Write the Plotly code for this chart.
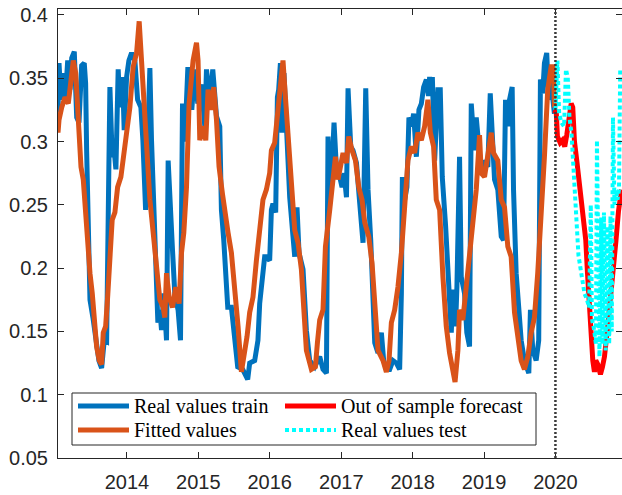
import plotly.graph_objects as go
from datetime import datetime

# ---------------- data (time in decimal years, values) ----------------
train_t = [2013.035, 2013.049, 2013.077, 2013.105, 2013.133, 2013.171, 2013.203, 2013.227, 2013.263, 2013.297,
           2013.329, 2013.366, 2013.403, 2013.422, 2013.436, 2013.459, 2013.483, 2013.524, 2013.576, 2013.608,
           2013.646, 2013.683, 2013.716, 2013.730, 2013.762, 2013.794, 2013.822, 2013.846, 2013.878, 2013.902,
           2013.940, 2013.962, 2013.996, 2014.028, 2014.066, 2014.112, 2014.150, 2014.196, 2014.224, 2014.262,
           2014.298, 2014.322, 2014.345, 2014.392, 2014.434, 2014.462, 2014.485, 2014.517, 2014.555, 2014.578,
           2014.611, 2014.639, 2014.671, 2014.717, 2014.751, 2014.779, 2014.811, 2014.853, 2014.881, 2014.909,
           2014.951, 2014.993, 2015.045, 2015.091, 2015.115, 2015.161, 2015.203, 2015.255, 2015.301, 2015.324,
           2015.357, 2015.413, 2015.464, 2015.510, 2015.552, 2015.622, 2015.692, 2015.720, 2015.790, 2015.836,
           2015.860, 2015.930, 2015.954, 2016.000, 2016.024, 2016.046, 2016.084, 2016.108, 2016.126, 2016.150,
           2016.172, 2016.200, 2016.234, 2016.280, 2016.326, 2016.350, 2016.382, 2016.410, 2016.466, 2016.513,
           2016.559, 2016.629, 2016.699, 2016.745, 2016.793, 2016.807, 2016.815, 2016.839, 2016.863, 2016.899,
           2016.933, 2016.979, 2017.011, 2017.039, 2017.073, 2017.095, 2017.133, 2017.165, 2017.213, 2017.259,
           2017.305, 2017.343, 2017.375, 2017.413, 2017.445, 2017.469, 2017.515, 2017.562, 2017.594, 2017.632,
           2017.678, 2017.724, 2017.772, 2017.818, 2017.842, 2017.856, 2017.888, 2017.920, 2017.948, 2017.982,
           2018.014, 2018.052, 2018.088, 2018.122, 2018.154, 2018.192, 2018.222, 2018.238, 2018.258, 2018.276,
           2018.308, 2018.354, 2018.387, 2018.415, 2018.462, 2018.508, 2018.541, 2018.564, 2018.601, 2018.620,
           2018.657, 2018.681, 2018.727, 2018.759, 2018.797, 2018.821, 2018.867, 2018.891, 2018.927, 2018.961,
           2019.007, 2019.053, 2019.087, 2019.115, 2019.147, 2019.193, 2019.241, 2019.273, 2019.301, 2019.333,
           2019.357, 2019.394, 2019.413, 2019.450, 2019.487, 2019.520, 2019.566, 2019.627, 2019.650, 2019.683,
           2019.730, 2019.766, 2019.790, 2019.822, 2019.846, 2019.878, 2019.906, 2019.940, 2019.986]
train_v = [0.323, 0.362, 0.333, 0.354, 0.330, 0.364, 0.341, 0.366, 0.371, 0.319,
           0.315, 0.360, 0.362, 0.346, 0.293, 0.201, 0.175, 0.161, 0.143, 0.127,
           0.121, 0.143, 0.142, 0.214, 0.343, 0.288, 0.293, 0.278, 0.357, 0.327,
           0.351, 0.309, 0.351, 0.364, 0.370, 0.364, 0.333, 0.327, 0.301, 0.246,
           0.338, 0.358, 0.301, 0.217, 0.157, 0.167, 0.151, 0.180, 0.143, 0.285,
           0.238, 0.214, 0.180, 0.167, 0.143, 0.330, 0.300, 0.357, 0.357, 0.325,
           0.357, 0.330, 0.345, 0.312, 0.357, 0.330, 0.357, 0.320, 0.312, 0.246,
           0.222, 0.169, 0.169, 0.146, 0.122, 0.120, 0.112, 0.125, 0.127, 0.143,
           0.172, 0.209, 0.209, 0.206, 0.246, 0.251, 0.244, 0.335, 0.341, 0.362,
           0.307, 0.354, 0.301, 0.256, 0.225, 0.209, 0.248, 0.212, 0.199, 0.151,
           0.127, 0.122, 0.130, 0.120, 0.117, 0.246, 0.304, 0.251, 0.270, 0.315,
           0.278, 0.272, 0.264, 0.275, 0.256, 0.342, 0.296, 0.293, 0.283, 0.251,
           0.220, 0.342, 0.262, 0.222, 0.165, 0.141, 0.133, 0.149, 0.127, 0.120,
           0.120, 0.127, 0.125, 0.120, 0.180, 0.272, 0.254, 0.264, 0.319, 0.312,
           0.322, 0.288, 0.325, 0.330, 0.343, 0.349, 0.336, 0.351, 0.338, 0.351,
           0.285, 0.341, 0.341, 0.272, 0.233, 0.180, 0.149, 0.183, 0.154, 0.185,
           0.288, 0.193, 0.180, 0.149, 0.138, 0.330, 0.293, 0.319, 0.296, 0.275,
           0.285, 0.280, 0.338, 0.301, 0.270, 0.262, 0.225, 0.222, 0.333, 0.312,
           0.333, 0.343, 0.262, 0.196, 0.165, 0.143, 0.127, 0.117, 0.167, 0.135,
           0.127, 0.143, 0.349, 0.338, 0.362, 0.370, 0.333, 0.346, 0.322]

fit_t = [2013.035, 2013.049, 2013.087, 2013.133, 2013.179, 2013.217, 2013.249, 2013.283, 2013.319, 2013.357,
         2013.389, 2013.422, 2013.450, 2013.483, 2013.515, 2013.543, 2013.576, 2013.613, 2013.646, 2013.669,
         2013.702, 2013.730, 2013.762, 2013.794, 2013.832, 2013.870, 2013.916, 2013.962, 2013.996, 2014.042,
         2014.088, 2014.136, 2014.172, 2014.206, 2014.228, 2014.252, 2014.298, 2014.322, 2014.354, 2014.392,
         2014.438, 2014.462, 2014.508, 2014.531, 2014.555, 2014.592, 2014.639, 2014.685, 2014.731, 2014.765,
         2014.797, 2014.835, 2014.871, 2014.905, 2014.927, 2014.975, 2014.997, 2015.021, 2015.067, 2015.105,
         2015.137, 2015.185, 2015.217, 2015.255, 2015.291, 2015.338, 2015.371, 2015.417, 2015.464, 2015.510,
         2015.557, 2015.604, 2015.650, 2015.683, 2015.720, 2015.766, 2015.814, 2015.860, 2015.906, 2015.954,
         2016.000, 2016.024, 2016.070, 2016.102, 2016.140, 2016.186, 2016.220, 2016.256, 2016.303, 2016.350,
         2016.396, 2016.443, 2016.480, 2016.513, 2016.583, 2016.639, 2016.667, 2016.699, 2016.745, 2016.779,
         2016.839, 2016.885, 2016.919, 2016.955, 2017.025, 2017.073, 2017.105, 2017.151, 2017.199, 2017.245,
         2017.291, 2017.329, 2017.385, 2017.431, 2017.469, 2017.515, 2017.585, 2017.632, 2017.669, 2017.702,
         2017.748, 2017.794, 2017.842, 2017.888, 2017.934, 2017.982, 2018.028, 2018.074, 2018.122, 2018.168,
         2018.214, 2018.248, 2018.294, 2018.331, 2018.378, 2018.424, 2018.471, 2018.517, 2018.564, 2018.594,
         2018.634, 2018.657, 2018.703, 2018.751, 2018.797, 2018.843, 2018.891, 2018.937, 2018.961, 2019.007,
         2019.053, 2019.101, 2019.133, 2019.193, 2019.241, 2019.287, 2019.333, 2019.380, 2019.427, 2019.473,
         2019.520, 2019.566, 2019.613, 2019.660, 2019.706, 2019.752, 2019.800, 2019.846, 2019.892, 2019.940,
         2019.972, 2019.986]
fit_v = [0.307, 0.317, 0.327, 0.335, 0.330, 0.346, 0.364, 0.354, 0.315, 0.280,
         0.270, 0.244, 0.217, 0.196, 0.180, 0.159, 0.138, 0.127, 0.124, 0.149,
         0.154, 0.177, 0.214, 0.238, 0.244, 0.264, 0.272, 0.293, 0.312, 0.327,
         0.359, 0.370, 0.395, 0.364, 0.340, 0.307, 0.275, 0.254, 0.236, 0.217,
         0.191, 0.175, 0.169, 0.161, 0.196, 0.177, 0.169, 0.185, 0.172, 0.212,
         0.228, 0.264, 0.330, 0.357, 0.364, 0.378, 0.364, 0.301, 0.312, 0.301,
         0.341, 0.325, 0.343, 0.317, 0.280, 0.259, 0.244, 0.228, 0.212, 0.185,
         0.154, 0.118, 0.133, 0.146, 0.165, 0.177, 0.206, 0.230, 0.254, 0.262,
         0.275, 0.293, 0.299, 0.317, 0.341, 0.364, 0.335, 0.304, 0.259, 0.230,
         0.220, 0.199, 0.165, 0.135, 0.120, 0.122, 0.141, 0.159, 0.167, 0.217,
         0.246, 0.267, 0.288, 0.270, 0.291, 0.283, 0.304, 0.293, 0.285, 0.264,
         0.254, 0.236, 0.225, 0.204, 0.165, 0.135, 0.127, 0.118, 0.127, 0.157,
         0.167, 0.185, 0.212, 0.246, 0.285, 0.296, 0.291, 0.307, 0.301, 0.312,
         0.333, 0.307, 0.296, 0.254, 0.246, 0.193, 0.154, 0.133, 0.120, 0.110,
         0.135, 0.167, 0.159, 0.185, 0.206, 0.228, 0.262, 0.305, 0.275, 0.272,
         0.293, 0.307, 0.291, 0.285, 0.254, 0.248, 0.217, 0.209, 0.165, 0.143,
         0.127, 0.120, 0.130, 0.149, 0.161, 0.196, 0.236, 0.288, 0.341, 0.359,
         0.359, 0.327]

fc_t = [2019.990, 2020.010, 2020.028, 2020.066, 2020.098, 2020.130, 2020.158, 2020.192, 2020.220, 2020.242,
        2020.266, 2020.298, 2020.336, 2020.382, 2020.424, 2020.448, 2020.471, 2020.494, 2020.522, 2020.545,
        2020.564, 2020.592, 2020.629, 2020.657, 2020.685, 2020.727, 2020.765, 2020.801, 2020.846, 2020.881,
        2020.923]
fc_v = [0.322, 0.325, 0.304, 0.299, 0.301, 0.296, 0.305, 0.320, 0.330, 0.327,
        0.300, 0.285, 0.264, 0.245, 0.222, 0.196, 0.170, 0.150, 0.127, 0.118,
        0.127, 0.124, 0.116, 0.122, 0.130, 0.152, 0.172, 0.195, 0.222, 0.245,
        0.262]

test_t = [2020.000, 2020.028, 2020.052, 2020.084, 2020.121, 2020.147, 2020.172, 2020.196, 2020.224, 2020.245,
          2020.266, 2020.294, 2020.322, 2020.350, 2020.378, 2020.406, 2020.441, 2020.471, 2020.494, 2020.510,
          2020.541, 2020.566, 2020.580, 2020.599, 2020.615, 2020.639, 2020.657, 2020.678, 2020.703, 2020.727,
          2020.751, 2020.769, 2020.787, 2020.804, 2020.825, 2020.846, 2020.867, 2020.888, 2020.905, 2020.923]
test_v = [0.325, 0.364, 0.322, 0.315, 0.312, 0.357, 0.351, 0.319, 0.307, 0.285,
          0.264, 0.228, 0.210, 0.200, 0.188, 0.180, 0.175, 0.169, 0.250, 0.160,
          0.151, 0.140, 0.301, 0.170, 0.130, 0.240, 0.140, 0.244, 0.135, 0.233,
          0.140, 0.241, 0.150, 0.319, 0.250, 0.262, 0.254, 0.262, 0.357, 0.355]

series_names = ["Real values train", "Fitted values", "Out of sample forecast", "Real values test"]
split_year = 2020.0
x_range_years = [2013.035, 2020.93]
y_ticks = [0.05, 0.1, 0.15, 0.2, 0.25, 0.3, 0.35, 0.4]
y_range = [0.05, 0.4047]

# ---------------- styles ----------------
C_BLUE, C_ORANGE, C_RED, C_CYAN = "#0072BD", "#D95319", "#FF0000", "#00FFFF"
LW = 5
CYAN_DASH = "4px,3px"
AX_COLOR = "#262626"
SERIF = "'Liberation Serif', 'Times New Roman', serif"
SANS = "'Liberation Sans', Arial, sans-serif"

W, H = 622, 495
ML, MR, MT, MB = 58, 0, 9, 37
PW, PH = W - ML - MR, H - MT - MB


def to_date(t):
    y = int(t)
    a = datetime(y, 1, 1)
    b = datetime(y + 1, 1, 1)
    return a + (b - a) * (t - y)


def dates(ts):
    return [to_date(t) for t in ts]


def px(xp):   # pixel -> paper x
    return (xp - ML) / PW


def py(yp):   # pixel -> paper y
    return (H - MB - yp) / PH


fig = go.Figure()
fig.add_trace(go.Scatter(x=dates(train_t), y=train_v, mode="lines", name=series_names[0],
                         line=dict(color=C_BLUE, width=LW)))
fig.add_trace(go.Scatter(x=dates(fit_t), y=fit_v, mode="lines", name=series_names[1],
                         line=dict(color=C_ORANGE, width=LW)))
fig.add_trace(go.Scatter(x=dates(fc_t), y=fc_v, mode="lines", name=series_names[2],
                         line=dict(color=C_RED, width=LW)))
fig.add_trace(go.Scatter(x=dates(test_t), y=test_v, mode="lines", name=series_names[3],
                         line=dict(color=C_CYAN, width=4, dash=CYAN_DASH)))

# split marker
fig.add_shape(type="line", xref="x", yref="paper", x0=to_date(split_year), x1=to_date(split_year),
              y0=0, y1=1, line=dict(color="#3a3a3a", width=2.5, dash="2px,2px"), layer="above")

# legend (drawn as box + sample lines + text, MATLAB style, 2 columns)
fig.add_shape(type="rect", xref="paper", yref="paper", x0=px(72), x1=px(536), y0=py(445), y1=py(393),
              line=dict(color=AX_COLOR, width=1), fillcolor="white", layer="above")
legend_items = [
    (series_names[0], C_BLUE, "solid", 78, 406),
    (series_names[2], C_RED, "solid", 285, 406),
    (series_names[1], C_ORANGE, "solid", 78, 430),
    (series_names[3], C_CYAN, CYAN_DASH, 285, 430),
]
for name, col, dash, lx, ly in legend_items:
    fig.add_shape(type="line", xref="paper", yref="paper", x0=px(lx), x1=px(lx + 51), y0=py(ly), y1=py(ly),
                  line=dict(color=col, width=LW if dash == "solid" else 4, dash=dash), layer="above")
    fig.add_annotation(xref="paper", yref="paper", x=px(lx + 54), y=py(ly), text=name, showarrow=False,
                       xanchor="left", yanchor="middle",
                       font=dict(family=SERIF, size=20, color="black"))

axis_common = dict(showline=True, linecolor=AX_COLOR, linewidth=1, mirror="ticks",
                   ticks="inside", ticklen=6, tickcolor=AX_COLOR, showgrid=False, zeroline=False,
                   tickfont=dict(family=SANS, size=20, color=AX_COLOR))

fig.update_xaxes(type="date", range=[to_date(x_range_years[0]), to_date(x_range_years[1])],
                 tickformat="%Y", dtick="M12", tick0="2014-01-01", ticklabelstandoff=6, **axis_common)
fig.update_yaxes(range=y_range, tickvals=y_ticks, ticktext=[f"{v:g}" for v in y_ticks],
                 ticklabelstandoff=5, **axis_common)

fig.update_layout(
    width=W, height=H,
    margin=dict(l=ML, r=MR, t=MT, b=MB),
    paper_bgcolor="white", plot_bgcolor="white",
    showlegend=False,
)

fig.write_html("out.html")
